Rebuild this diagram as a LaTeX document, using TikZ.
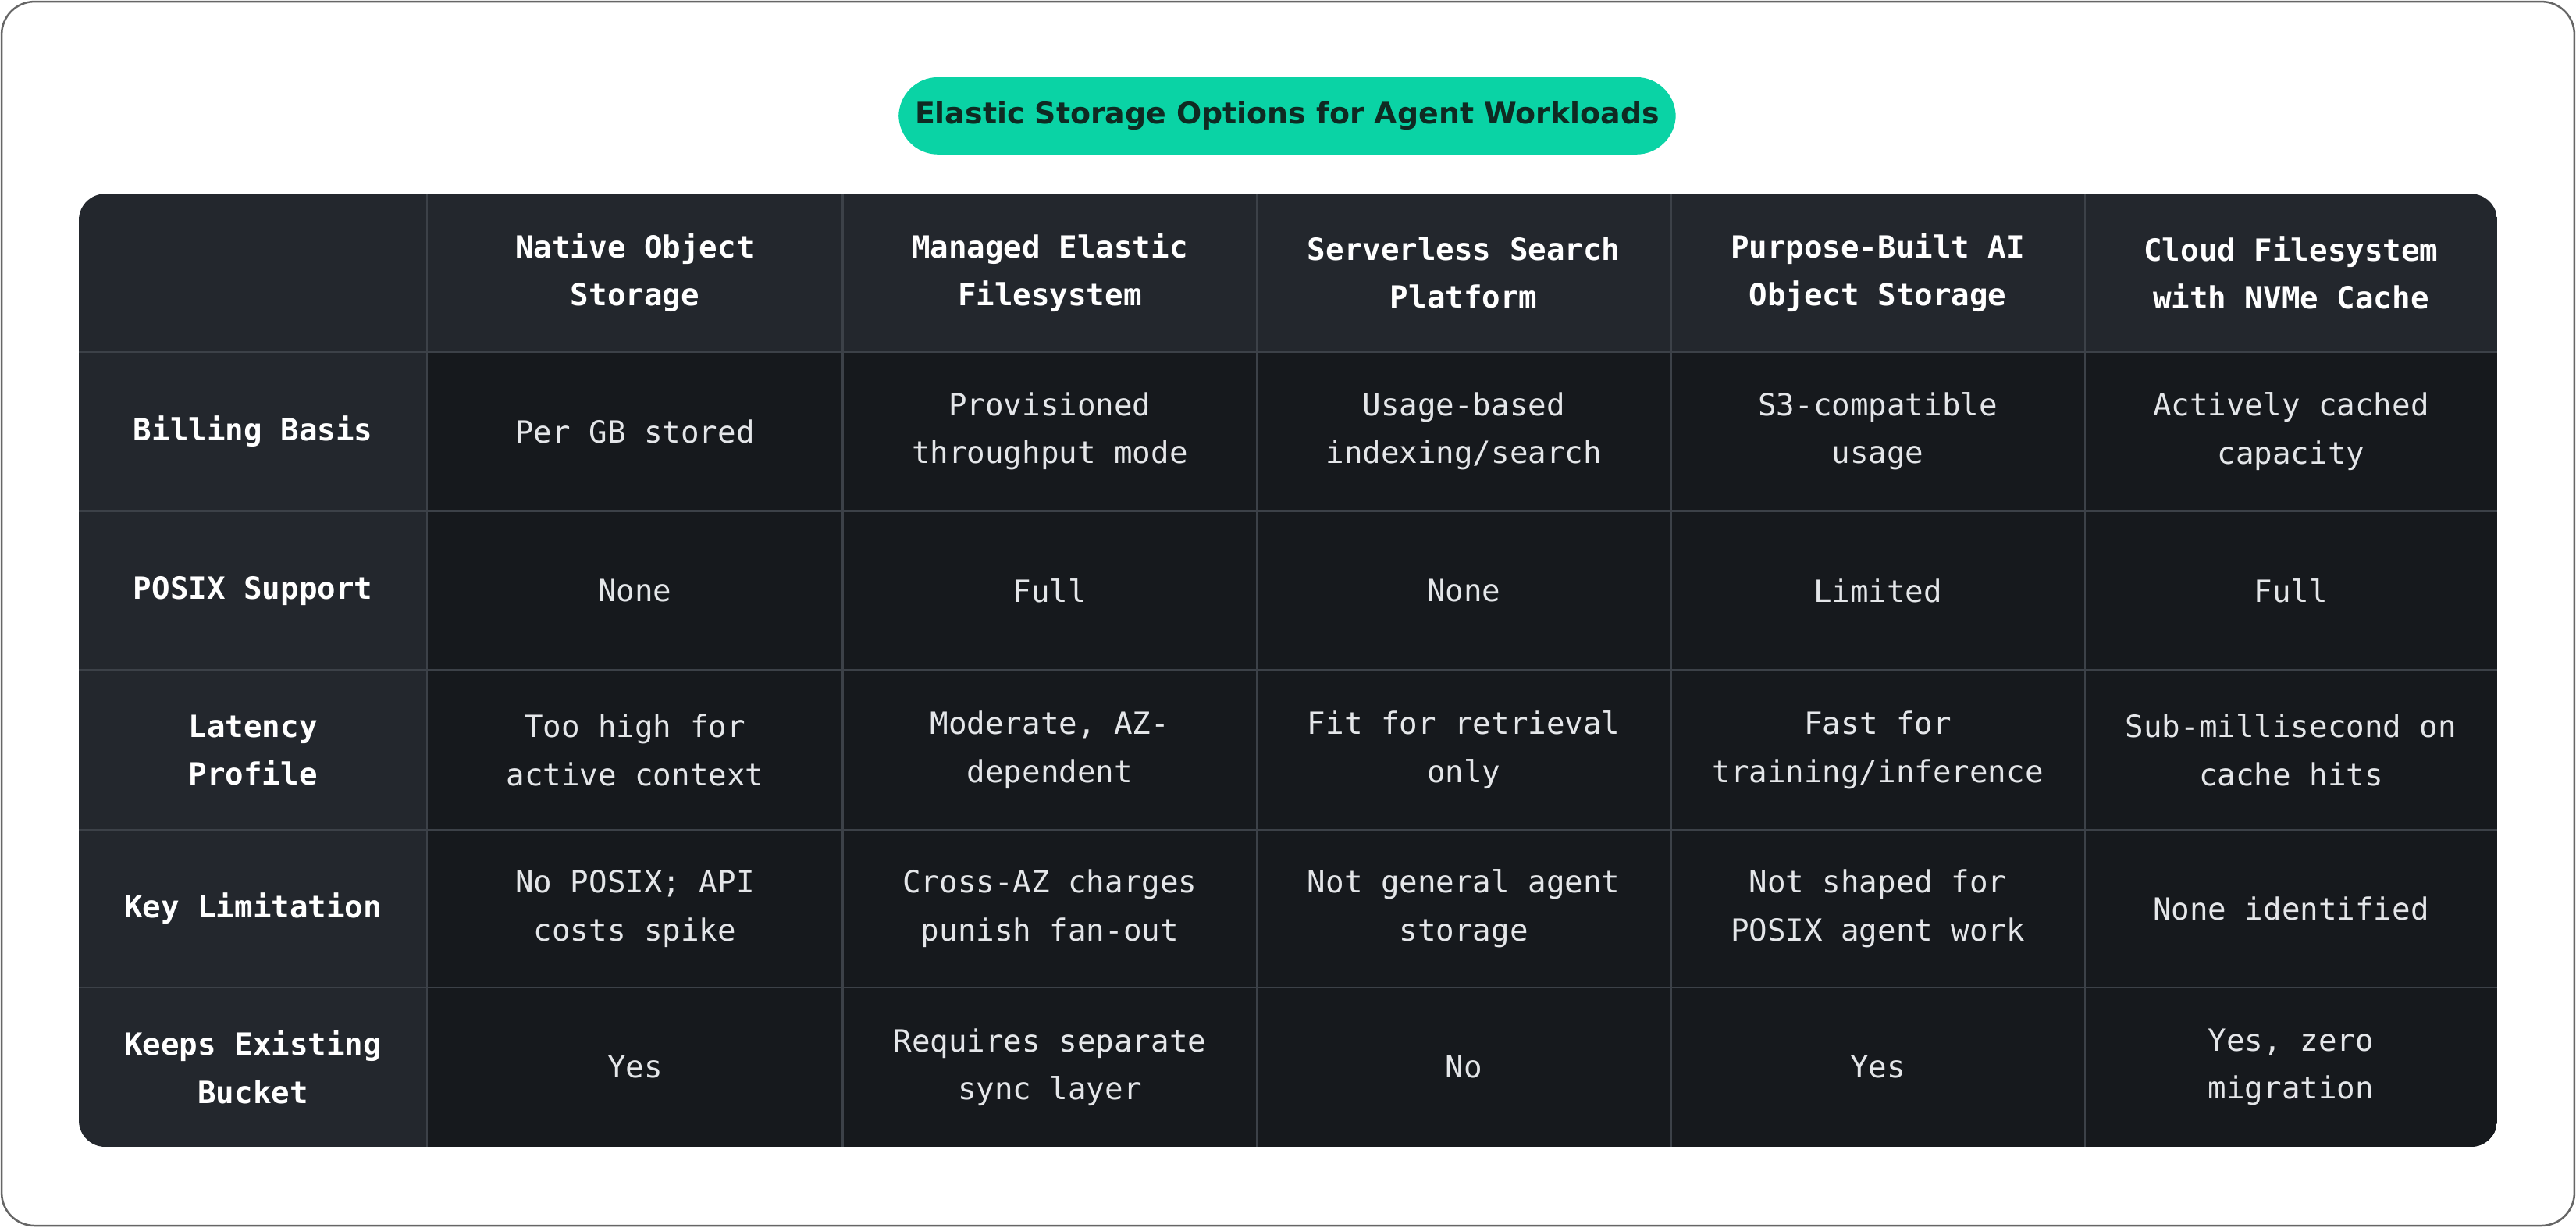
\documentclass[tikz,border=0pt]{standalone}
\usepackage{fontspec}
\setmainfont{DejaVu Sans}
\setmonofont{DejaVu Sans Mono}
\definecolor{pillteal}{HTML}{0AD3A5}
\definecolor{pilltext}{HTML}{0F2A22}
\definecolor{headbg}{HTML}{23272D}
\definecolor{bodybg}{HTML}{16191D}
\definecolor{gridline}{HTML}{3C4148}
\definecolor{celltext}{HTML}{E4E6E9}
\tikzset{
  cell/.style={align=center, text=celltext, font=\ttfamily\fontsize{9.3}{14.6}\selectfont},
  head/.style={cell, font=\ttfamily\bfseries\fontsize{9.3}{14.6}\selectfont, text=white},
}
\begin{document}
\begin{tikzpicture}[x=0.5pt, y=-0.5pt]
      \useasboundingbox (0,0) rectangle (1568,747);
      \fill[white] (0,0) rectangle (1568,747);
      \draw[gray!80!black, line width=0.6pt, rounded corners=10pt] (1,1) rectangle (1567,746);

      % title
      \node[fill=pillteal, rounded corners=12pt, minimum width=236.5pt, minimum height=23.5pt,
            text=pilltext, font=\bfseries\fontsize{9}{11}\selectfont] (title) at (783.5,70.5)
            {Elastic Storage Options for Agent Workloads};

      % table background
      \begin{scope}
        \clip[rounded corners=8pt] (48,118) rectangle (1520,698);
        \fill[headbg] (48,118) rectangle (1520,698);
        \fill[bodybg] (260,214) rectangle (1520,698);
        \foreach \x in {260,513,765,1017,1269}
          \draw[gridline, line width=0.6pt] (\x,118) -- (\x,698);
        \foreach \y in {214,311,408,505,601}
          \draw[gridline, line width=0.6pt] (48,\y) -- (1520,\y);
      \end{scope}

      % header row
      \node[head] (h1) at (386.5,166) {Native Object\\Storage};
      \node[head] (h2) at (639,166) {Managed Elastic\\Filesystem};
      \node[head] (h3) at (891,166) {Serverless Search\\Platform};
      \node[head] (h4) at (1143,166) {Purpose-Built AI\\Object Storage};
      \node[head] (h5) at (1394.5,166) {Cloud Filesystem\\with NVMe Cache};

      % row labels
      \node[head] (r1) at (154,262.5) {Billing Basis};
      \node[head] (r2) at (154,359.5) {POSIX Support};
      \node[head] (r3) at (154,456.5) {Latency\\Profile};
      \node[head] (r4) at (154,553) {Key Limitation};
      \node[head] (r5) at (154,649.5) {Keeps Existing\\Bucket};

      % billing
      \node[cell] (r1c1) at (386.5,262.5) {Per GB stored};
      \node[cell] (r1c2) at (639,262.5) {Provisioned\\throughput mode};
      \node[cell] (r1c3) at (891,262.5) {Usage-based\\indexing/search};
      \node[cell] (r1c4) at (1143,262.5) {S3-compatible\\usage};
      \node[cell] (r1c5) at (1394.5,262.5) {Actively cached\\capacity};

      % posix
      \node[cell] (r2c1) at (386.5,359.5) {None};
      \node[cell] (r2c2) at (639,359.5) {Full};
      \node[cell] (r2c3) at (891,359.5) {None};
      \node[cell] (r2c4) at (1143,359.5) {Limited};
      \node[cell] (r2c5) at (1394.5,359.5) {Full};

      % latency
      \node[cell] (r3c1) at (386.5,456.5) {Too high for\\active context};
      \node[cell] (r3c2) at (639,456.5) {Moderate, AZ-\\dependent};
      \node[cell] (r3c3) at (891,456.5) {Fit for retrieval\\only};
      \node[cell] (r3c4) at (1143,456.5) {Fast for\\training/inference};
      \node[cell] (r3c5) at (1394.5,456.5) {Sub-millisecond on\\cache hits};

      % limitation
      \node[cell] (r4c1) at (386.5,553) {No POSIX; API\\costs spike};
      \node[cell] (r4c2) at (639,553) {Cross-AZ charges\\punish fan-out};
      \node[cell] (r4c3) at (891,553) {Not general agent\\storage};
      \node[cell] (r4c4) at (1143,553) {Not shaped for\\POSIX agent work};
      \node[cell] (r4c5) at (1394.5,553) {None identified};

      % bucket
      \node[cell] (r5c1) at (386.5,649.5) {Yes};
      \node[cell] (r5c2) at (639,649.5) {Requires separate\\sync layer};
      \node[cell] (r5c3) at (891,649.5) {No};
      \node[cell] (r5c4) at (1143,649.5) {Yes};
      \node[cell] (r5c5) at (1394.5,649.5) {Yes, zero\\migration};
    \end{tikzpicture}
\end{document}
